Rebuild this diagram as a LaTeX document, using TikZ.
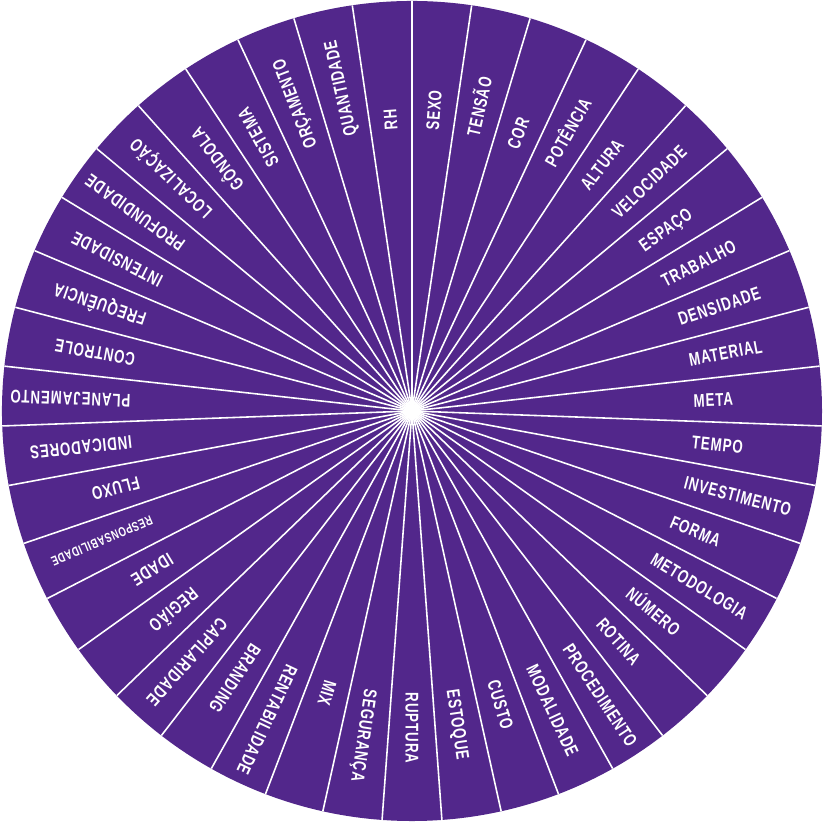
\documentclass[tikz,border=0pt]{standalone}
\usepackage{fontspec}
\newfontfamily\wheelfont[FakeStretch=0.72,LetterSpace=5]{Liberation Sans}
\definecolor{wheelpurple}{RGB}{82,39,139}

\begin{document}
\begin{tikzpicture}[
    spoke/.style={draw=white, line width=0.55pt},
    tag/.style={text=white, inner sep=0pt, anchor=west, text height=4.4pt, text depth=0pt,
        font=\wheelfont\bfseries\fontsize{6.4}{7}\selectfont}
]
    % Fix the frame of the picture
    \useasboundingbox (-5.024,-5.073) rectangle (5.061,5.012);

    % Define the centre of the wheel
    \coordinate (O) at (0,0);
    \def\rad{5}
    \def\sect{360/43}

    % Draw the disc
    \fill[wheelpurple] (O) circle (\rad);

    % Draw the spokes
    \foreach \k in {0,...,42} {
        \coordinate (rim-\k) at ({90-\k*\sect}:\rad);
        \draw[spoke] (O) -- (rim-\k);
    }

    % Place the words, one in each slice
    \foreach \k/\word in {0/SEXO, 1/TENSÃO, 2/COR, 3/POTÊNCIA, 4/ALTURA, 5/VELOCIDADE,
        6/ESPAÇO, 7/TRABALHO, 8/DENSIDADE, 9/MATERIAL, 10/META, 11/TEMPO,
        12/INVESTIMENTO, 13/FORMA, 14/METODOLOGIA, 15/NÚMERO, 16/ROTINA,
        17/PROCEDIMENTO, 18/MODALIDADE, 19/CUSTO, 20/ESTOQUE, 21/RUPTURA,
        22/SEGURANÇA, 23/MIX, 24/RENTABILIDADE, 25/BRANDING, 26/CAPILARIDADE,
        27/REGIÃO, 28/IDADE, 29/{\fontsize{4.6}{5}\selectfont RESPONSABILIDADE},
        30/FLUXO, 31/INDICADORES, 32/PLANEJAMENTO, 33/CONTROLE, 34/FREQUÊNCIA,
        35/INTENSIDADE, 36/PROFUNDIDADE, 37/LOCALIZAÇÃO, 38/GÔNDOLA, 39/SISTEMA,
        40/ORÇAMENTO, 41/QUANTIDADE, 42/RH}
        \node[tag, rotate={90-(\k+0.5)*\sect}] (word-\k) at ({90-(\k+0.5)*\sect}:3.43) {\word};

\end{tikzpicture}
\end{document}
